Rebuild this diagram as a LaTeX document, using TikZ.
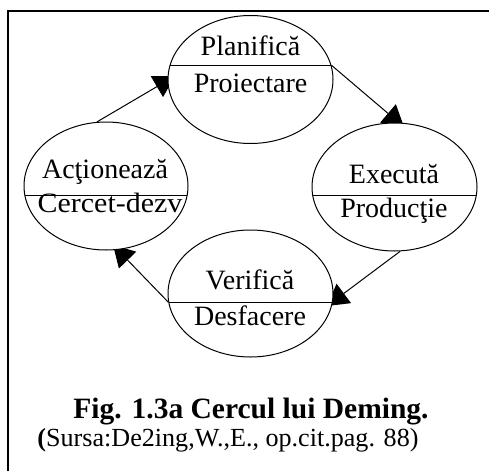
\documentclass[tikz,border=0pt]{standalone}
\usepackage{fontspec}
\usepackage{graphicx}
\setmainfont{Liberation Serif}
\usetikzlibrary{shapes.geometric,arrows.meta}
\pgfdeclarelayer{back}
\pgfsetlayers{back,main}
\begin{document}
\begin{tikzpicture}[x=1pt,y=-1pt,
  stage/.style={draw, fill=white, line width=1pt, ellipse, inner sep=0pt,
                minimum width=165pt, minimum height=128pt},
  lbl/.style={anchor=base, inner sep=0pt, font=\fontsize{28}{30}\selectfont},
  captext/.style={anchor=base, inner sep=0pt, font=\fontsize{26.1}{30}\selectfont},
  flow/.style={line width=1pt, -{Triangle[length=21pt,width=24pt]}},
  divider/.style={line width=1pt}]
\useasboundingbox (0,0) rectangle (489,471);
% frame
\draw[line width=2pt] (7.25,11) -- (489,11);
\draw[line width=1.5pt] (8,10) -- (8,471);

% the four stages of the cycle (white filled, so arrow tips tuck under them)
\node[stage] (T) at (250.5,79.5) {};
\node[stage, minimum width=164pt] (L) at (106,186) {};
\node[stage] (R) at (394.5,187) {};
\node[stage, minimum height=127pt] (B) at (250.5,293.5) {};

% horizontal dividers, clipped to each ellipse
\begin{scope}
  \clip (T.center) ellipse [x radius=82.5, y radius=64];
  \draw[divider] (160,65) -- (340,65);
\end{scope}
\begin{scope}
  \clip (L.center) ellipse [x radius=82, y radius=64];
  \draw[divider] (15,195) -- (195,195);
\end{scope}
\begin{scope}
  \clip (R.center) ellipse [x radius=82.5, y radius=64];
  \draw[divider] (305,195) -- (485,195);
\end{scope}
\begin{scope}
  \clip (B.center) ellipse [x radius=82.5, y radius=63.5];
  \draw[divider] (160,302) -- (340,302);
\end{scope}

% labels
\node[lbl] (t1) at (250.5,55) {Planifică};
\node[lbl] (t2) at (250.5,92) {Proiectare};
\node[lbl] (l1) at (105,178) {Acţionează};
\node[lbl] (l2) at (110,212) {\scalebox{1.07}[1]{Cercet-dezv}};
\node[lbl] (r1) at (394,183) {Execută};
\node[lbl] (r2) at (394,217) {Producţie};
\node[lbl] (b1) at (250,289) {Verifică};
\node[lbl] (b2) at (250,325) {Desfacere};

% arrow tips end just inside the next ellipse
\coordinate (tipT) at (175,76);
\coordinate (tipR) at (404,127);
\coordinate (tipB) at (327,306);
\coordinate (tipL) at (113,245);

% cycle arrows, drawn underneath the ellipses
\begin{pgfonlayer}{back}
\fill[white] (0,0) rectangle (489,471);
\draw[flow] (L.98) -- (tipT);
\draw[flow] (T.10) -- (tipR);
\draw[flow] (R.275) -- (tipB);
\draw[flow] (B.186) -- (tipL);
\end{pgfonlayer}

% caption
\node[captext, font=\fontsize{29.5}{30}\selectfont\bfseries] (c1) at (251,418) {Fig. 1.3a Cercul lui Deming.};
\node[captext] (c2) at (228,446) {\textbf{(}Sursa:De2ing,W.,E., op.cit.pag. 88)};
\end{tikzpicture}
\end{document}
